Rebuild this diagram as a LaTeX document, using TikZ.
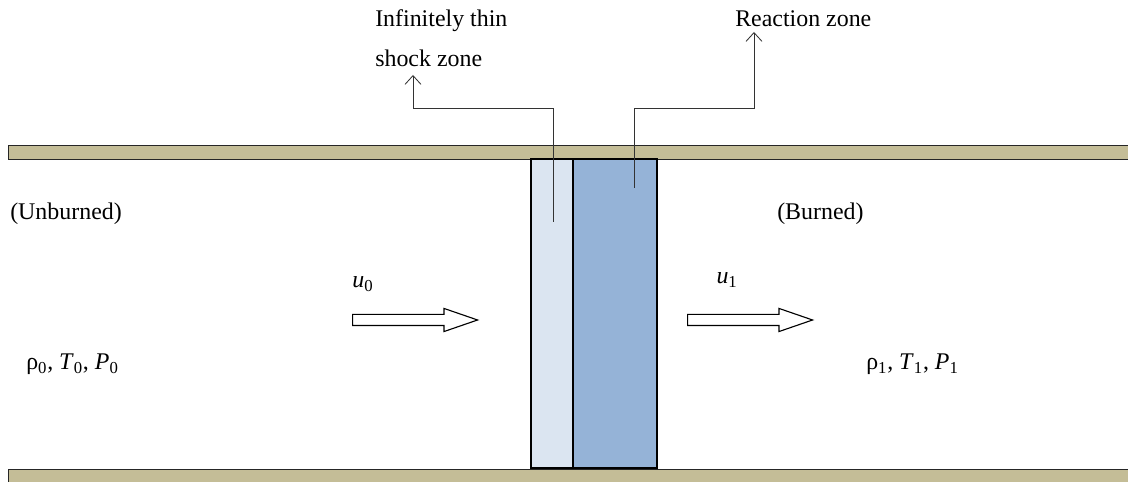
\documentclass[tikz,border=0pt]{standalone}
\usepackage{fontspec}
\setmainfont{Liberation Serif}
\usetikzlibrary{shapes.arrows,arrows.meta}
\definecolor{wallc}{RGB}{196,189,151}
\definecolor{shockc}{RGB}{219,229,241}
\definecolor{reacc}{RGB}{149,179,215}
\begin{document}
\begin{tikzpicture}[every node/.style={font=\fontsize{17}{28.5}\selectfont,inner sep=0pt},
  wall/.style={draw=black!85,fill=wallc,line width=0.7pt},
  zone/.style={draw=black,line width=1.1pt,minimum width=#1,minimum height=7.725cm,anchor=south west},
  leader/.style={draw=black!80,line width=0.6pt,-{Straight Barb[length=2.2mm,width=4mm]}},
  flow/.style={single arrow,draw=black,line width=0.8pt,fill=white,minimum height=3.125cm,
    inner xsep=0pt,inner ysep=0.125cm,minimum width=0.55cm,single arrow head extend=0.15cm,
    single arrow tip angle=38,anchor=tail}]
\useasboundingbox (0,0) rectangle (28.2,12.05);
% channel walls
\draw[wall] (0.2,8.05) rectangle (28.6,8.4);
\draw[wall] (0.2,0.325) rectangle (28.6,-0.3);
% shock and reaction zones
\node[zone=1.05cm,fill=shockc] (shock) at (13.25,0.325) {};
\node[zone=2.1cm,fill=reacc] (reac) at (14.3,0.325) {};
% labels
\node[anchor=base west,align=left] (shocklab) at (9.375,10.375) {Infinitely thin\\shock zone};
\node[anchor=base west] (reaclab) at (18.375,11.375) {Reaction zone};
\node[anchor=base west] (unb) at (0.25,6.55) {(Unburned)};
\node[anchor=base west] (bur) at (19.425,6.55) {(Burned)};
\node[anchor=base] (u0) at (9.075,4.85) {\textit{u}\textsubscript{0}};
\node[anchor=base] (u1) at (18.175,4.95) {\textit{u}\textsubscript{1}};
\node[anchor=base west] (st0) at (0.65,2.8) {ρ\textsubscript{0}, \textit{T}\textsubscript{0}, \textit{P}\textsubscript{0}};
\node[anchor=base west] (st1) at (21.65,2.8) {ρ\textsubscript{1}, \textit{T}\textsubscript{1}, \textit{P}\textsubscript{1}};
% flow arrows
\node[flow] (f0) at (8.8,4.05) {};
\node[flow] (f1) at (17.175,4.05) {};
% leader lines
\coordinate (shockin) at (13.825,6.5);
\coordinate (shocktip) at (10.325,10.175);
\coordinate (reacin) at (15.85,7.35);
\coordinate (reactip) at (18.85,11.25);
\draw[leader] (shockin) |- ++(0,2.85) -| (shocktip);
\draw[leader] (reacin) |- ++(0,2.0) -| (reactip);
\end{tikzpicture}
\end{document}
